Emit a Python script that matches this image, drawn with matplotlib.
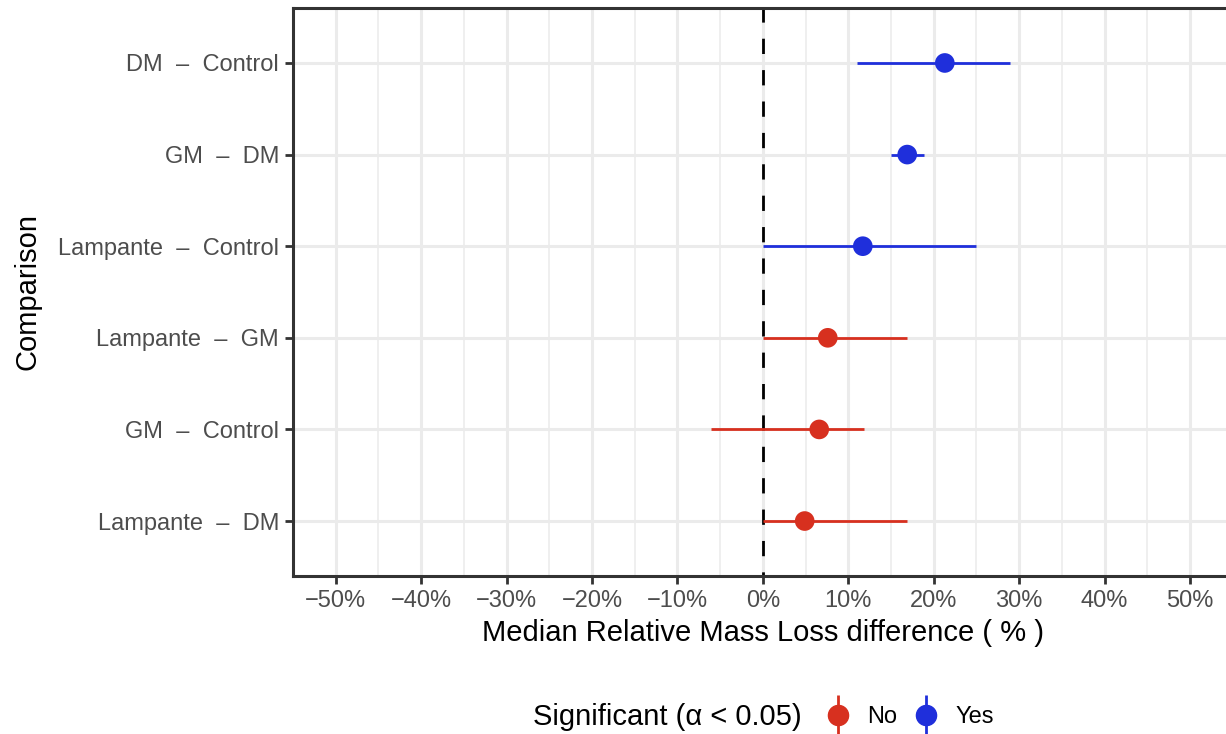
import matplotlib
matplotlib.use('Agg')
import matplotlib.pyplot as plt
from matplotlib.legend_handler import HandlerErrorbar
import numpy as np

plt.rcParams['font.family'] = ['Liberation Sans', 'DejaVu Sans']

comparisons = ['DM  \u2013  Control', 'GM  \u2013  DM', 'Lampante  \u2013  Control',
               'Lampante  \u2013  GM', 'GM  \u2013  Control', 'Lampante  \u2013  DM']
median_diff = [21.3, 16.9, 11.7, 7.6, 6.6, 4.9]
ci_low = [11.0, 15.0, 0.0, 0.0, -6.1, 0.0]
ci_high = [28.9, 18.9, 24.9, 16.9, 11.8, 16.9]
significant = ['Yes', 'Yes', 'Yes', 'No', 'No', 'No']
xticks = list(range(-50, 51, 10))

colors = {'No': '#D7301F', 'Yes': '#1F2FDB'}

fig = plt.figure(figsize=(12.26, 7.34), dpi=100)
left = 293 / 1226
width = (1232.7 - 293) / 1226
bottom = 1 - 576 / 734
top = 1 - 8 / 734
ax = fig.add_axes([left, bottom, width, top - bottom])

n = len(comparisons)
ypos = np.arange(n)[::-1] + 1  # first category at top

for y, m, lo, hi, s in zip(ypos, median_diff, ci_low, ci_high, significant):
    ax.hlines(y, lo, hi, color=colors[s], lw=2.0, zorder=3)
    ax.scatter([m], [y], s=200, color=colors[s], zorder=4, edgecolors='none')

ax.axvline(0, color='black', ls=(4, (5.5, 5.8)), lw=2.0, zorder=2)

ax.set_xlim(-55, 55)
ax.set_ylim(0.4, n + 0.6)
ax.set_xticks(xticks)
ax.set_xticklabels(['\u2212%d%%' % -v if v < 0 else '%d%%' % v for v in xticks])
ax.set_xticks(np.arange(-55, 56, 10), minor=True)
ax.set_yticks(ypos)
ax.set_yticklabels(comparisons)

ax.grid(True, which='major', color='#EBEBEB', lw=2.2, zorder=0)
ax.grid(True, which='minor', axis='x', color='#EBEBEB', lw=1.1, zorder=0)
ax.set_axisbelow(True)
ax.tick_params(which='minor', length=0)
ax.tick_params(which='major', length=6, width=2, color='#333333',
               labelsize=17, labelcolor='#4D4D4D', pad=4)
for sp in ax.spines.values():
    sp.set_color('#333333')
    sp.set_linewidth(2.2)

ax.set_xlabel('Median Relative Mass Loss difference ( % )', fontsize=21, labelpad=5)
ax.set_ylabel('Comparison', fontsize=21, labelpad=12)

# legend
fig.text(533 / 1226, 1 - 717 / 734, 'Significant (\u03b1 < 0.05)', fontsize=21,
         ha='left', va='center')
handles = []
for lab in ['No', 'Yes']:
    h = ax.errorbar([np.nan], [np.nan], yerr=[[1], [1]], fmt='o', color=colors[lab],
                    ms=14.5, elinewidth=2, capsize=0, label=lab)
    handles.append(h)
fig.legend(handles, ['No', 'Yes'], loc='center left',
           bbox_to_anchor=(826 / 1226, 1 - 717 / 734), ncol=2, frameon=False,
           fontsize=17, handlelength=1.0, handletextpad=0.75, columnspacing=0.7,
           borderaxespad=0, borderpad=0,
           handler_map={type(handles[0]): HandlerErrorbar(yerr_size=0.85)})

fig.savefig('out.png', dpi=100)
plt.close(fig)
